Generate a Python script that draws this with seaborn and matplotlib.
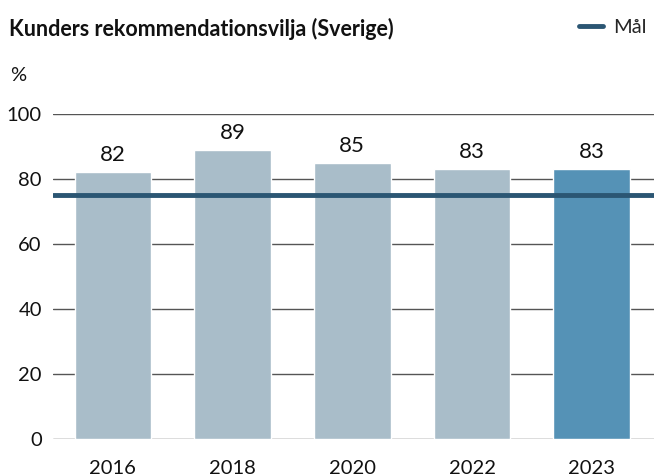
import matplotlib
matplotlib.use("Agg")
import matplotlib.pyplot as plt
import seaborn as sns
from matplotlib.lines import Line2D

# chart values
years = ["2016", "2018", "2020", "2022", "2023"]
scores = [82, 89, 85, 83, 83]
target = 75
yticks = [0, 20, 40, 60, 80, 100]

light = "#a9bdc9"
dark = "#5592b6"
target_color = "#2b5673"

sns.set_style("white")
plt.rcParams["font.family"] = ["Lato", "DejaVu Sans"]

fig = plt.figure(figsize=(6.54, 4.76), dpi=100)
ax = fig.add_axes([0.081, 0.078, 0.919, 0.683])

palette = {y: (dark if y == years[-1] else light) for y in years}
sns.barplot(x=years, y=scores, hue=years, palette=palette, width=0.64,
            legend=False, ax=ax, saturation=1, zorder=2)

for c in ax.containers:
    ax.bar_label(c, fmt="%d", padding=5, fontsize=16, color="#111111")

ax.axhline(target, color=target_color, linewidth=3.5, zorder=3)

ax.set_ylim(0, 100)
ax.set_xlim(-0.5, 4.52)
ax.set_yticks(yticks)
ax.yaxis.grid(True, color="#555555", linewidth=1)
ax.set_axisbelow(True)
for s in ax.spines.values():
    s.set_visible(False)
ax.tick_params(axis="both", length=0, labelsize=14.5, colors="#111111")
ax.tick_params(axis="y", pad=8)
ax.tick_params(axis="x", pad=15)
ax.set_xlabel("")
ax.set_ylabel("")

fig.text(0.014, 0.94, "Kunders rekommendationsvilja (Sverige)", fontsize=15.5,
         fontweight="bold", va="center", ha="left", color="#111111")
fig.text(0.015, 0.842, "%", fontsize=14.5, va="center", ha="left", color="#111111")

handle = Line2D([0], [0], color=target_color, linewidth=3.5)
fig.legend([handle], ["Mål"], loc="center left", bbox_to_anchor=(0.885, 0.942),
           frameon=False, fontsize=14.5, handlelength=1.2, handletextpad=0.5,
           borderaxespad=0, borderpad=0)

fig.savefig("out.png", dpi=100)
